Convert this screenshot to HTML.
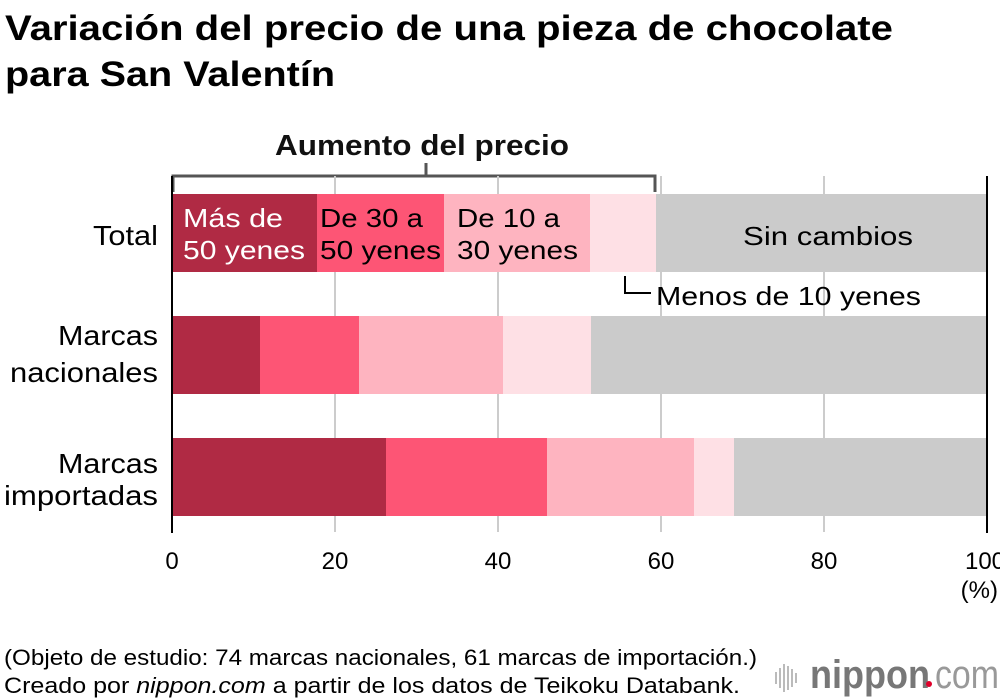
<!DOCTYPE html>
<html><head><meta charset="utf-8"><style>
html,body{margin:0;padding:0;background:#fff;}
svg{display:block;font-family:"Liberation Sans",Arial,sans-serif;}
</style></head><body>
<svg width="1000" height="700" viewBox="0 0 1000 700" xmlns="http://www.w3.org/2000/svg">
<text x="5" y="40" font-size="35" font-weight="bold" fill="#000" textLength="888" lengthAdjust="spacingAndGlyphs">Variación del precio de una pieza de chocolate</text>
<text x="5" y="86" font-size="35" font-weight="bold" fill="#000" textLength="330" lengthAdjust="spacingAndGlyphs">para San Valentín</text>

<text x="275" y="155" font-size="29" font-weight="bold" fill="#111" textLength="294" lengthAdjust="spacingAndGlyphs">Aumento del precio</text>
<path d="M173 192 V176 H655 V192 M426 176 V163" stroke="#555" stroke-width="3" fill="none"/>

<g stroke="#ccc" stroke-width="2">
<line x1="335" y1="176" x2="335" y2="532"/><line x1="498" y1="176" x2="498" y2="532"/>
<line x1="661" y1="176" x2="661" y2="532"/><line x1="824" y1="176" x2="824" y2="532"/>
</g>

<rect x="172" y="194" width="145" height="78" fill="#b02a44"/>
<rect x="317" y="194" width="127" height="78" fill="#fd5575"/>
<rect x="444" y="194" width="146" height="78" fill="#feb4c0"/>
<rect x="590" y="194" width="66" height="78" fill="#fee0e5"/>
<rect x="656" y="194" width="331" height="78" fill="#cbcbcb"/>
<rect x="172" y="316" width="88" height="78" fill="#b02a44"/>
<rect x="260" y="316" width="99" height="78" fill="#fd5575"/>
<rect x="359" y="316" width="144" height="78" fill="#feb4c0"/>
<rect x="503" y="316" width="88" height="78" fill="#fee0e5"/>
<rect x="591" y="316" width="396" height="78" fill="#cbcbcb"/>
<rect x="172" y="438" width="214" height="78" fill="#b02a44"/>
<rect x="386" y="438" width="161" height="78" fill="#fd5575"/>
<rect x="547" y="438" width="147" height="78" fill="#feb4c0"/>
<rect x="694" y="438" width="40" height="78" fill="#fee0e5"/>
<rect x="734" y="438" width="253" height="78" fill="#cbcbcb"/>

<line x1="172" y1="176" x2="172" y2="533" stroke="#000" stroke-width="2"/>
<line x1="987" y1="176" x2="987" y2="533" stroke="#000" stroke-width="2"/>

<g font-size="26" lengthAdjust="spacingAndGlyphs">
<text x="183" y="227" fill="#fff" textLength="100" lengthAdjust="spacingAndGlyphs">Más de</text>
<text x="183" y="259" fill="#fff" textLength="122" lengthAdjust="spacingAndGlyphs">50 yenes</text>
<text x="320" y="227" fill="#000" textLength="103" lengthAdjust="spacingAndGlyphs">De 30 a</text>
<text x="320" y="259" fill="#000" textLength="121" lengthAdjust="spacingAndGlyphs">50 yenes</text>
<text x="457" y="227" fill="#000" textLength="103" lengthAdjust="spacingAndGlyphs">De 10 a</text>
<text x="457" y="259" fill="#000" textLength="121" lengthAdjust="spacingAndGlyphs">30 yenes</text>
<text x="743" y="245" fill="#000" textLength="170" lengthAdjust="spacingAndGlyphs">Sin cambios</text>
<text x="656" y="305" fill="#000" textLength="265" lengthAdjust="spacingAndGlyphs">Menos de 10 yenes</text>
</g>
<path d="M625 276 V293 H651" stroke="#000" stroke-width="2" fill="none"/>

<g font-size="28" fill="#000">
<text x="93" y="245" textLength="65" lengthAdjust="spacingAndGlyphs">Total</text>
<text x="58" y="345" textLength="100" lengthAdjust="spacingAndGlyphs">Marcas</text>
<text x="10" y="382" textLength="148" lengthAdjust="spacingAndGlyphs">nacionales</text>
<text x="58" y="473" textLength="100" lengthAdjust="spacingAndGlyphs">Marcas</text>
<text x="4" y="505" textLength="154" lengthAdjust="spacingAndGlyphs">importadas</text>
</g>

<g font-size="24" text-anchor="middle" fill="#000">
<text x="172" y="569">0</text>
<text x="335" y="569">20</text>
<text x="498" y="569">40</text>
<text x="661" y="569">60</text>
<text x="824" y="569">80</text>
<text x="985" y="569">100</text>
</g>
<text x="998" y="598" font-size="24" text-anchor="end">(%)</text>

<text x="4" y="665" font-size="22" fill="#000" textLength="753" lengthAdjust="spacingAndGlyphs">(Objeto de estudio: 74 marcas nacionales, 61 marcas de importación.)</text>
<text x="4" y="693" font-size="22" fill="#000" textLength="736" lengthAdjust="spacingAndGlyphs">Creado por <tspan font-style="italic">nippon.com</tspan> a partir de los datos de Teikoku Databank.</text>

<g fill="#bbb">
<rect x="775" y="672" width="2" height="12"/><rect x="779" y="668" width="2" height="20"/>
<rect x="783" y="664" width="2" height="28"/><rect x="787" y="666" width="2" height="24"/>
<rect x="791" y="669" width="2" height="18"/><rect x="795" y="673" width="2" height="10"/>
</g>
<text x="810" y="688" font-size="40" fill="#777" font-weight="bold" textLength="120" lengthAdjust="spacingAndGlyphs">nippon</text>
<circle cx="929" cy="684" r="3" fill="#e0002a"/>
<text x="935" y="688" font-size="40" fill="#999" textLength="64" lengthAdjust="spacingAndGlyphs">com</text>
</svg>
</body></html>
